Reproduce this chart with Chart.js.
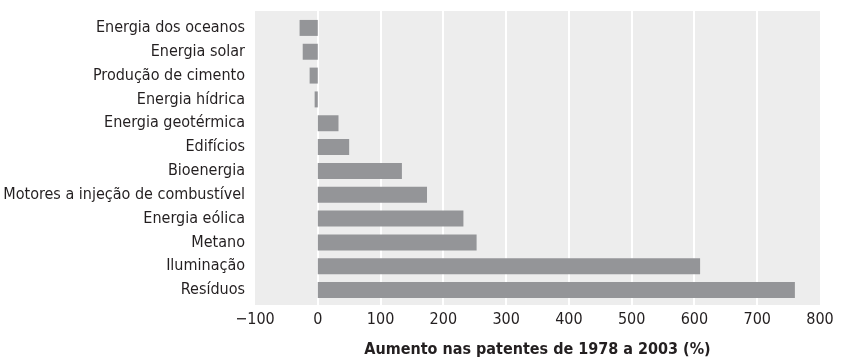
<!DOCTYPE html>
<html>
<head>
<meta charset="utf-8">
<script src="https://cdn.jsdelivr.net/npm/chart.js@4/dist/chart.umd.min.js"></script>
<style>
  html, body { margin: 0; padding: 0; background: #ffffff; }
  #wrap { width: 849px; height: 360px; }
</style>
</head>
<body>
<div id="wrap"><canvas id="c" width="849" height="360"></canvas></div>
<script>
// Categorias (de cima para baixo)
const categories = [
  'Energia dos oceanos',
  'Energia solar',
  'Produção de cimento',
  'Energia hídrica',
  'Energia geotérmica',
  'Edifícios',
  'Bioenergia',
  'Motores a injeção de combustível',
  'Energia eólica',
  'Metano',
  'Iluminação',
  'Resíduos'
];
// Aumento nas patentes de 1978 a 2003 (%)
const increases = [-29, -24, -13, -5, 33, 50, 134, 174, 232, 253, 609, 760];
const xTicks = [-100, 0, 100, 200, 300, 400, 500, 600, 700, 800];
const axisTitle = 'Aumento nas patentes de 1978 a 2003 (%)';

const FONT = "'Liberation Sans Narrow', 'DejaVu Sans Condensed', 'Roboto', sans-serif";

// Fundo cinza da área de plotagem, com uma pequena margem acima e abaixo das barras
const plotBackground = {
  id: 'plotBackground',
  beforeDraw(chart) {
    const { ctx, chartArea: a } = chart;
    ctx.save();
    ctx.fillStyle = '#ededed';
    ctx.fillRect(a.left, a.top - 5, a.right - a.left, a.bottom - a.top + 8);
    ctx.restore();
  }
};

// Linhas de grade brancas cobrindo toda a altura do fundo
const whiteGrid = {
  id: 'whiteGrid',
  beforeDatasetsDraw(chart) {
    const { ctx, chartArea: a, scales: { x } } = chart;
    ctx.save();
    ctx.strokeStyle = '#ffffff';
    ctx.lineWidth = 2;
    xTicks.slice(1, -1).forEach(v => {
      const px = Math.round(x.getPixelForValue(v));
      ctx.beginPath();
      ctx.moveTo(px, a.top - 5);
      ctx.lineTo(px, a.bottom + 3);
      ctx.stroke();
    });
    ctx.restore();
  }
};

new Chart(document.getElementById('c'), {
  type: 'bar',
  data: {
    labels: categories,
    datasets: [{
      data: increases,
      backgroundColor: '#949598',
      borderWidth: 0,
      barPercentage: 0.67,
      categoryPercentage: 1.0
    }]
  },
  options: {
    indexAxis: 'y',
    responsive: false,
    animation: false,
    layout: { padding: { top: 16, right: 29, bottom: 0, left: 0 } },
    plugins: {
      legend: { display: false },
      tooltip: { enabled: false }
    },
    scales: {
      x: {
        min: -100,
        max: 800,
        afterBuildTicks(scale) {
          scale.ticks = xTicks.map(v => ({ value: v }));
        },
        ticks: {
          color: '#231f20',
          font: { family: FONT, size: 16 },
          padding: 8,
          callback: v => (v < 0 ? '\u2212' + Math.abs(v) : String(v))
        },
        grid: { display: false, drawTicks: false },
        border: { display: false },
        title: {
          display: true,
          text: axisTitle,
          color: '#231f20',
          font: { family: FONT, size: 16, weight: 'bold' },
          padding: { top: 3, bottom: 1 }
        },
        afterFit(scale) { scale.height = 58; }
      },
      y: {
        ticks: {
          color: '#231f20',
          font: { family: FONT, size: 16 },
          padding: 10,
          autoSkip: false
        },
        grid: { display: false, drawTicks: false },
        border: { display: false },
        afterFit(scale) {
          scale.width = 255;
          scale.paddingTop = 0;
          scale.paddingBottom = 0;
        }
      }
    }
  },
  plugins: [plotBackground, whiteGrid]
});
</script>
</body>
</html>
